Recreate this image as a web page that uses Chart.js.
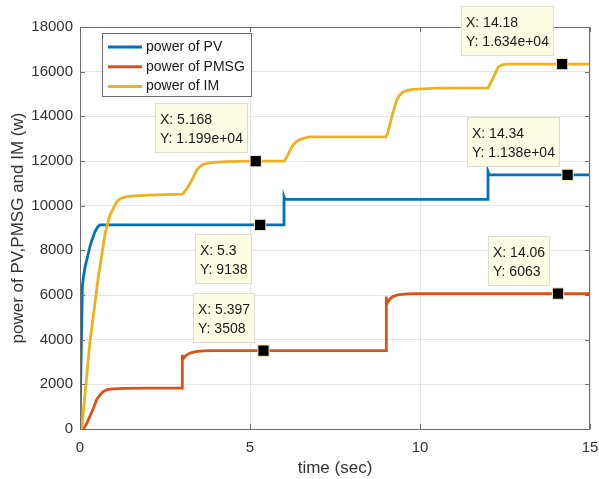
<!DOCTYPE html>
<html><head><meta charset="utf-8">
<script src="https://cdn.jsdelivr.net/npm/chart.js@4/dist/chart.umd.min.js"></script>
<style>html,body{margin:0;padding:0;background:#fff;}canvas{display:block;}</style>
</head><body>
<canvas id="c" width="599" height="479"></canvas>
<script>
const seriesNames = ['power of PV', 'power of PMSG', 'power of IM'];

const pvTime  = [0, 0.03, 0.07, 0.1, 0.15, 0.22, 0.29, 0.36, 0.44, 0.52, 0.59, 0.7, 6.0, 6.0, 6.03, 12.0, 12.0, 12.03, 15];
const pvPower = [0, 3000, 6400, 6800, 7270, 7700, 8160, 8500, 8830, 9050, 9138, 9138, 9138, 10400, 10280, 10280, 11520, 11380, 11380];

const pmsgTime  = [0, 0.1, 0.2, 0.29, 0.4, 0.49, 0.6, 0.69, 0.8, 0.98, 1.3, 2.0, 3.0, 3.0, 3.02, 3.05, 3.12, 3.24, 3.4, 3.63, 3.9, 4.5, 9.0, 9.0, 9.02, 9.06, 9.12, 9.2, 9.35, 9.6, 10.0, 15];
const pmsgPower = [0, 0, 250, 560, 950, 1310, 1550, 1680, 1760, 1800, 1820, 1830, 1830, 3330, 3100, 3180, 3300, 3400, 3460, 3500, 3508, 3508, 3508, 5930, 5550, 5700, 5830, 5930, 6010, 6050, 6063, 6063];

const imTime  = [0, 0.05, 0.29, 0.54, 0.74, 0.88, 1.0, 1.08, 1.2, 1.37, 1.6, 2.06, 3.0, 3.04, 3.14, 3.24, 3.34, 3.43, 3.53, 3.63, 3.78, 3.92, 4.3, 5.0, 6.0, 6.05, 6.12, 6.18, 6.25, 6.35, 6.47, 6.6, 6.76, 7.0, 9.0, 9.05, 9.17, 9.31, 9.4, 9.5, 9.65, 9.8, 10.5, 12.0, 12.05, 12.16, 12.3, 12.42, 12.55, 12.8, 15];
const imPower = [0, 0, 3860, 6820, 8760, 9580, 9950, 10175, 10320, 10400, 10440, 10475, 10520, 10560, 10750, 11000, 11300, 11590, 11750, 11860, 11910, 11935, 11970, 11990, 11990, 12100, 12300, 12486, 12680, 12850, 12960, 13030, 13080, 13080, 13080, 13250, 13975, 14720, 14950, 15090, 15170, 15210, 15260, 15270, 15420, 15760, 16210, 16310, 16340, 16340, 16340];

const tipX      = [5.168, 5.3, 5.397, 14.18, 14.34, 14.06];
const tipY      = [11990, 9138, 3508, 16340, 11380, 6063];
const tipLabelX = ['5.168', '5.3', '5.397', '14.18', '14.34', '14.06'];
const tipLabelY = ['1.199e+04', '9138', '3508', '1.634e+04', '1.138e+04', '6063'];
const tipBelow  = [false, true, false, false, false, false];

const xTicks = [0, 5, 10, 15];
const yTicks = [0, 2000, 4000, 6000, 8000, 10000, 12000, 14000, 16000, 18000];

const colors = ['#0072BD', '#D95319', '#EDB120'];
const FONT = '"Liberation Sans", Arial, Helvetica, sans-serif';
const TEXT = '#333333';

function pts(t, v) { return t.map((x, i) => ({x: x, y: v[i]})); }

const framePlugin = {
  id: 'frame',
  afterDatasetsDraw(chart) {
    const {ctx, chartArea: a, scales: {x, y}} = chart;
    ctx.save();
    ctx.strokeStyle = '#6e6e6e';
    ctx.lineWidth = 1;
    ctx.strokeRect(Math.round(a.left) + 0.5, Math.round(a.top) + 0.5, Math.round(a.right - a.left) - 1, Math.round(a.bottom - a.top));
    ctx.beginPath();
    xTicks.forEach(v => {
      const px = Math.round(x.getPixelForValue(v)) + 0.5;
      ctx.moveTo(px, a.bottom); ctx.lineTo(px, a.bottom - 5);
      ctx.moveTo(px, a.top); ctx.lineTo(px, a.top + 5);
    });
    yTicks.forEach(v => {
      const py = Math.round(y.getPixelForValue(v)) + 0.5;
      ctx.moveTo(a.left, py); ctx.lineTo(a.left + 5, py);
      ctx.moveTo(a.right, py); ctx.lineTo(a.right - 5, py);
    });
    ctx.stroke();
    ctx.restore();
  },
  afterDraw(chart) {
    const {ctx, scales: {x, y}} = chart;
    ctx.save();
    ctx.font = '14px ' + FONT;
    tipX.forEach((tx, i) => {
      const px = x.getPixelForValue(tx), py = y.getPixelForValue(tipY[i]);
      const l1 = 'X: ' + tipLabelX[i], l2 = 'Y: ' + tipLabelY[i];
      const w = Math.round(Math.max(ctx.measureText(l1).width, ctx.measureText(l2).width) + 10);
      const h = 50;
      const right = Math.round(px - 8);
      const top = Math.round(tipBelow[i] ? py + 9 : py - 8 - h);
      const left = right - w;
      ctx.fillStyle = '#fdfde4';
      ctx.fillRect(left, top, w, h);
      ctx.strokeStyle = '#deded0';
      ctx.lineWidth = 1;
      ctx.strokeRect(left + 0.5, top + 0.5, w - 1, h - 1);
      ctx.fillStyle = '#1a1a1a';
      ctx.textBaseline = 'middle';
      ctx.textAlign = 'left';
      ctx.fillText(l1, left + 5, top + 17);
      ctx.fillText(l2, left + 5, top + 36);
    });
    const lx = 102, ly = 33, lw = 149, lh = 63;
    ctx.fillStyle = '#ffffff';
    ctx.fillRect(lx, ly, lw, lh);
    ctx.strokeStyle = '#6e6e6e';
    ctx.lineWidth = 1;
    ctx.strokeRect(lx + 0.5, ly + 0.5, lw, lh);
    ctx.font = '14px ' + FONT;
    ctx.textBaseline = 'middle';
    ctx.textAlign = 'left';
    chart.data.datasets.slice(0, 3).forEach((ds, i) => {
      const ry = ly + 14 + i * 19.7;
      ctx.strokeStyle = ds.borderColor;
      ctx.lineWidth = 3;
      ctx.beginPath(); ctx.moveTo(108, ry); ctx.lineTo(142, ry); ctx.stroke();
      ctx.fillStyle = '#1a1a1a';
      ctx.fillText(ds.label, 146, ry);
    });
    ctx.restore();
  }
};

new Chart(document.getElementById('c'), {
  type: 'scatter',
  data: {
    datasets: [
      {label: seriesNames[0], data: pts(pvTime, pvPower), borderColor: colors[0], showLine: true, pointRadius: 0, borderWidth: 2.8, order: 3},
      {label: seriesNames[1], data: pts(pmsgTime, pmsgPower), borderColor: colors[1], showLine: true, pointRadius: 0, borderWidth: 2.8, order: 2},
      {label: seriesNames[2], data: pts(imTime, imPower), borderColor: colors[2], showLine: true, pointRadius: 0, borderWidth: 2.8, order: 1},
      {label: 'tips', data: pts(tipX, tipY), showLine: false, pointStyle: 'rect', pointRadius: 8, backgroundColor: '#000000', borderColor: '#f4f0c0', borderWidth: 1, order: 0}
    ]
  },
  options: {
    responsive: false,
    animation: false,
    devicePixelRatio: 1,
    layout: {padding: {top: 27, right: 0, left: 0, bottom: 0}},
    plugins: {legend: {display: false}, tooltip: {enabled: false}},
    scales: {
      x: {
        type: 'linear', min: 0, max: 15,
        afterBuildTicks: s => { s.ticks = xTicks.map(v => ({value: v})); },
        afterFit: s => { s.height = 50; s.paddingRight = 9; },
        grid: {color: '#e6e6e6', drawTicks: false},
        border: {display: false},
        ticks: {padding: 10, color: TEXT, font: {family: FONT, size: 15}, maxRotation: 0, callback: v => String(v)},
        title: {display: true, text: 'time (sec)', color: TEXT, font: {family: FONT, size: 17}, padding: {top: 0, bottom: 0}}
      },
      y: {
        type: 'linear', min: 0, max: 18000,
        afterBuildTicks: s => { s.ticks = yTicks.map(v => ({value: v})); },
        afterFit: s => { s.width = 80; },
        grid: {color: '#e6e6e6', drawTicks: false},
        border: {display: false},
        ticks: {padding: 7, color: TEXT, font: {family: FONT, size: 15}, callback: v => String(v)},
        title: {display: true, text: 'power of PV,PMSG and IM (w)', color: TEXT, font: {family: FONT, size: 17}, padding: {top: 8, bottom: 0}}
      }
    }
  },
  plugins: [framePlugin]
});
</script>
</body></html>
